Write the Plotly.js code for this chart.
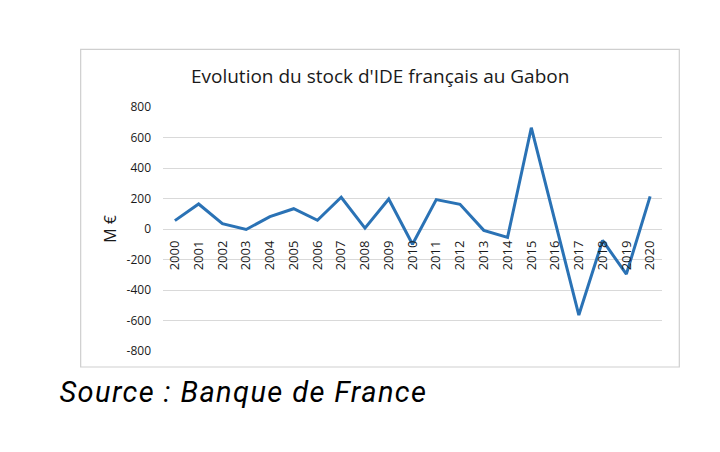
<!DOCTYPE html>
<html>
<head>
<meta charset="utf-8">
<script src="https://cdn.plot.ly/plotly-3.0.1.min.js"></script>
<style>html,body{margin:0;padding:0;background:#fff;}#chart{width:720px;height:452px;}
#chart .annotation-text{letter-spacing:1.4px;}</style>
</head>
<body>
<div id="chart"></div>
<script>
const years = ["2000","2001","2002","2003","2004","2005","2006","2007","2008","2009","2010","2011","2012","2013","2014","2015","2016","2017","2018","2019","2020"];
const stock = [55, 164, 35, -3, 81, 133, 57, 208, 6, 197, -100, 193, 162, -9, -55, 664, 50, -564, -75, -296, 214];
const yTicks = [-800, -600, -400, -200, 0, 200, 400, 600, 800];

const trace = {
  x: years, y: stock, type: 'scatter', mode: 'lines',
  line: {color: '#2a72b5', width: 3}, hoverinfo: 'skip'
};

const layout = {
  width: 720, height: 452,
  margin: {l: 163, r: 58, t: 107, b: 101},
  paper_bgcolor: '#ffffff', plot_bgcolor: '#ffffff',
  showlegend: false,
  title: {text: "Evolution du stock d'IDE français au Gabon", x: 0.528, xanchor: 'center', y: 0.832, yanchor: 'middle',
          font: {family: 'Open Sans, Liberation Sans, sans-serif', size: 19, color: '#1a1a1a'}},
  xaxis: {
    type: 'category', anchor: 'free', position: 0.5, range: [-0.5, years.length - 0.5],
    showgrid: false, showline: false, zeroline: false, ticks: '',
    tickangle: -90, ticklabelstandoff: 8,
    tickfont: {family: 'Open Sans, Liberation Sans, sans-serif', size: 13, color: '#1a1a1a'},
    fixedrange: true
  },
  yaxis: {
    range: [-800, 800], tickvals: yTicks, ticktext: yTicks.map(String),
    showgrid: true, gridcolor: '#d9d9d9', gridwidth: 1,
    zeroline: true, zerolinecolor: '#d9d9d9', zerolinewidth: 1,
    showline: false, ticks: '', ticklabelstandoff: 11,
    tickfont: {family: 'Open Sans, Liberation Sans, sans-serif', size: 12, color: '#1a1a1a'},
    title: {text: 'M €', standoff: 5, font: {family: 'Open Sans, Liberation Sans, sans-serif', size: 16, color: '#1a1a1a'}},
    fixedrange: true
  },
  shapes: [{
    type: 'rect', xref: 'paper', yref: 'paper',
    x0: -0.165, x1: 1.0347, y0: -0.0656, y1: 1.2365,
    line: {color: '#cfcfcf', width: 1.2}, fillcolor: 'rgba(0,0,0,0)', layer: 'below'
  }],
  annotations: [{
    xref: 'paper', yref: 'paper', x: -0.177, y: -0.168, xanchor: 'left', yanchor: 'middle',
    text: 'Source : Banque de France', showarrow: false,
    font: {family: 'Roboto, sans-serif', size: 29, color: '#000000', style: 'italic'}
  }]
};

Plotly.newPlot('chart', [trace], layout, {displayModeBar: false, staticPlot: true});
</script>
</body>
</html>
